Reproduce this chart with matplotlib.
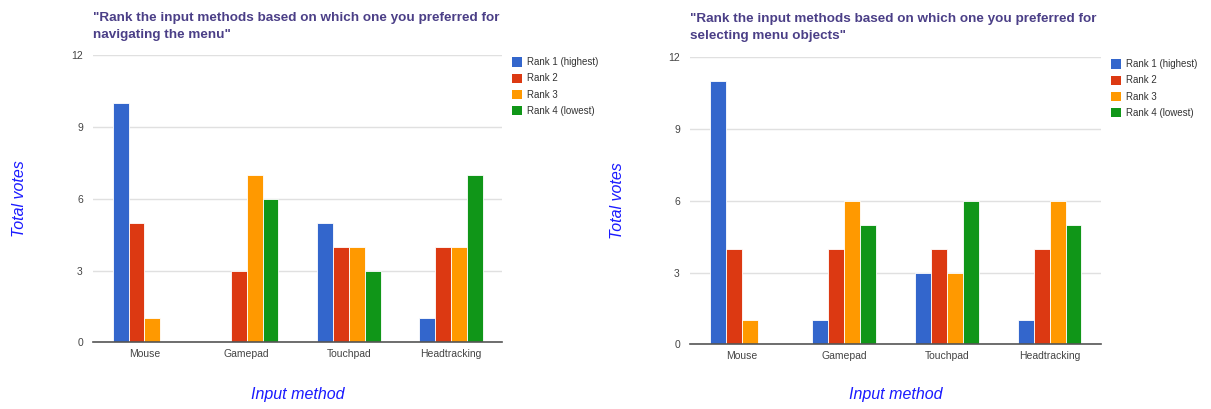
import numpy as np
import matplotlib
matplotlib.use("Agg")
import matplotlib.pyplot as plt
from matplotlib.patches import Patch

plt.rcParams['font.family'] = ['Liberation Sans', 'DejaVu Sans']

# Datos
methods = ["Mouse", "Gamepad", "Touchpad", "Headtracking"]
ranks = ["Rank 1 (highest)", "Rank 2", "Rank 3", "Rank 4 (lowest)"]
colors = ["#3366cc", "#dc3912", "#ff9900", "#109618"]

nav_rank1 = [10, 0, 5, 1]
nav_rank2 = [5, 3, 4, 4]
nav_rank3 = [1, 7, 4, 4]
nav_rank4 = [0, 6, 3, 7]

sel_rank1 = [11, 1, 3, 1]
sel_rank2 = [4, 4, 4, 4]
sel_rank3 = [1, 6, 3, 6]
sel_rank4 = [0, 5, 6, 5]

title_nav = '"Rank the input methods based on which one you preferred for\nnavigating the menu"'
title_sel = '"Rank the input methods based on which one you preferred for\nselecting menu objects"'

W, H = 1211, 409
fig = plt.figure(figsize=(W / 100, H / 100), dpi=100)
label_color = "#1a1aff"


def draw_panel(rect, series, title, title_x, title_top, ylab_x):
    ax = fig.add_axes(rect)
    x = np.arange(len(methods))
    bw = 0.155
    for i, vals in enumerate(series):
        ax.bar(x + (i - 1.5) * bw, vals, width=bw, color=colors[i],
               edgecolor="white", linewidth=0.6, zorder=3)
    ax.set_xlim(-0.5, len(methods) - 0.5)
    ax.set_ylim(0, 12)
    ax.set_yticks([0, 3, 6, 9, 12])
    ax.set_xticks(x)
    ax.set_xticklabels(methods)
    ax.grid(axis="y", color="#e0e0e0", linewidth=1, zorder=0)
    for s in ["top", "right", "left"]:
        ax.spines[s].set_visible(False)
    ax.spines["bottom"].set_color("#555555")
    ax.spines["bottom"].set_linewidth(1.2)
    ax.spines["bottom"].set_zorder(4)
    ax.tick_params(axis="both", length=0, labelsize=7.5, labelcolor="#444444")
    ax.tick_params(axis="y", pad=7.5)
    ax.tick_params(axis="x", pad=5)

    # etiquetas de ejes como texto de figura
    x_mid = rect[0] + rect[2] / 2
    fig.text(x_mid, 1 - 395 / H, "Input method", ha="center", va="center",
             fontsize=11.5, style="italic", color=label_color)
    fig.text(ylab_x, rect[1] + rect[3] * 0.5, "Total votes", ha="center", va="center",
             rotation=90, fontsize=11.5, style="italic", color=label_color)

    handles = [Patch(facecolor=c, edgecolor="none") for c in colors]
    ax.legend(handles, ranks, loc="upper left", bbox_to_anchor=(1.003, 1.023),
              frameon=False, fontsize=7, handlelength=1.0, handleheight=1.1,
              handletextpad=0.5, labelspacing=0.62, labelcolor="#333333")
    fig.text(title_x, 1 - title_top / H, title, ha="left", va="top", fontsize=9.7,
             fontweight="bold", color="#4b3f87", linespacing=1.6)
    return ax


draw_panel([93.3 / W, 66.7 / H, 409 / W, 287 / H],
           [nav_rank1, nav_rank2, nav_rank3, nav_rank4], title_nav, 93 / W, 12, 20 / W)
draw_panel([690.3 / W, 64.7 / H, 410.7 / W, 287 / H],
           [sel_rank1, sel_rank2, sel_rank3, sel_rank4], title_sel, 690 / W, 13, 617 / W)

fig.savefig("out.png", dpi=100)
